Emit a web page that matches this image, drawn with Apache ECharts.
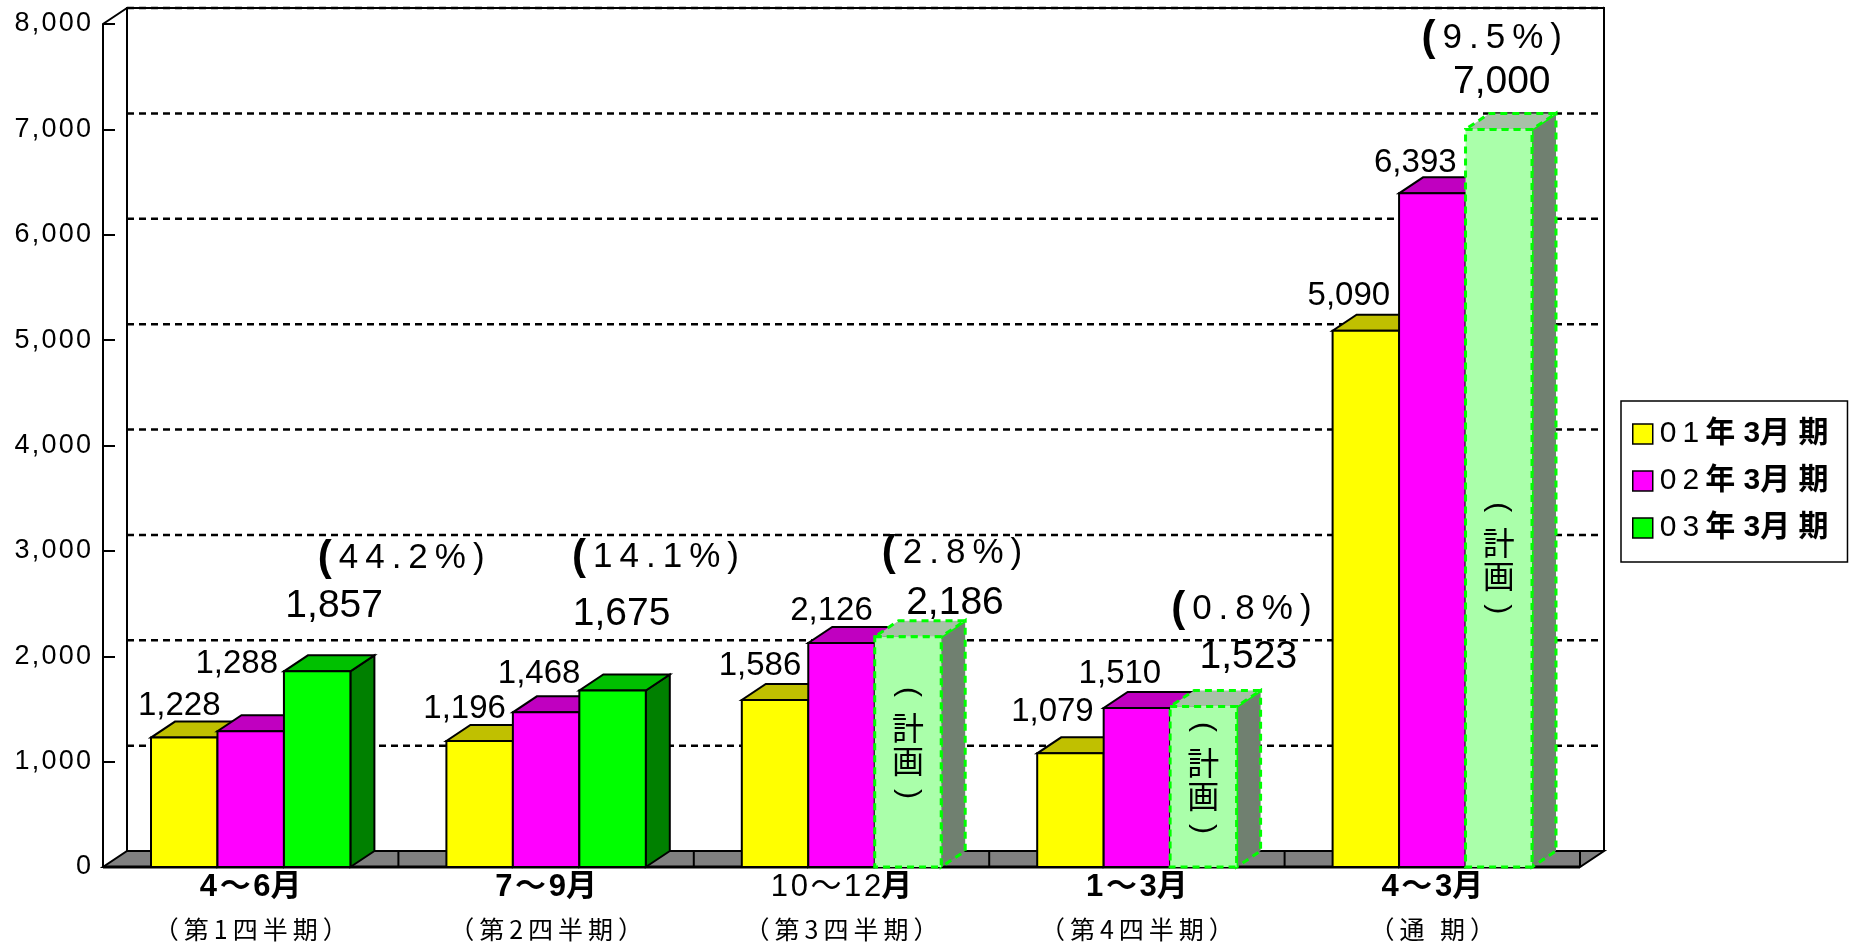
<!DOCTYPE html>
<html>
<head>
<meta charset="utf-8">
<script src="https://cdn.jsdelivr.net/npm/echarts@6/dist/echarts.min.js"></script>
<style>
  html, body { margin: 0; padding: 0; background: #fff; }
  #chart { width: 1854px; height: 947px; }
</style>
</head>
<body>
<div id="chart"></div>
<script>
// ---- data ----
const categories = ['4～6月', '7～9月', '10～12月', '1～3月', '4～3月'];
const subCategories = ['（第1四半期）', '（第2四半期）', '（第3四半期）', '（第4四半期）', '（通 期）'];
const seriesNames = ['01年 3月 期', '02年 3月 期', '03年 3月 期'];
const sales01 = [1228, 1196, 1586, 1079, 5090];
const sales02 = [1288, 1468, 2126, 1510, 6393];
const sales03 = [1857, 1675, 2186, 1523, 7000];
const isPlan03 = [false, false, true, true, true];
const growth03 = ['44.2', '14.1', '2.8', '0.8', '9.5'];
const yMax = 8000;
const yStep = 1000;

// ---- layout & style ----
const DEPTH = [24, -16];          // oblique offset of the back plane
const BAR_RATIO = 0.225;          // bar width as a share of the category band
const mainLabelBold = [true, true, false, true, true];
// label nudges relative to the top-front centre of each bar
const valueNudge = [
  [[-5, -32], [-15, -32], [-15, -34], [-18, -41], [-17, -35]],
  [[-14, -67], [-7, -38], [-10, -32], [-17, -34], [-17, -30]],
  [[17, -65], [9, -76], [47, -33], [45, -49], [3, -47]]
];
// growth label nudges relative to the value label of the third series
const growthNudge = [[67, -48], [34, -57], [-3, -50], [-7, -48], [-10, -44]];
// vertical position of the plan note, as a share of the bar height from its top
const planNoteAt = [0, 0, 0.457, 0.439, 0.58];

const NUM_FONT = "'Liberation Sans',Arial,sans-serif";
const JP_FONT = "'Noto Sans CJK JP',sans-serif";
const MIX_FONT = "'Liberation Sans','Noto Sans CJK JP',sans-serif";
const THIN = '\u2009';
const HAIR = '\u200A';

const barStyles = [
  { front: '#ffff00', top: '#c0c000', side: '#808000' },
  { front: '#ff00ff', top: '#c000c0', side: '#800080' },
  { front: '#00ff00', top: '#00c000', side: '#008000' }
];
const planStyle = { front: '#aaffaa', top: '#a8c0a8', side: '#708070', stroke: '#00ff00' };

const spaced = (s, gap) => Array.from(s).join(gap);
const fmt = v => v.toLocaleString('en-US');

// ---- frame: floor, walls and dashed grid ----
function renderFrame(params, api) {
  const cs = params.coordSys;
  const [dx, dy] = DEPTH;
  const x0 = cs.x, x1 = cs.x + cs.width;
  const yb = api.coord([0, 0])[1];
  const yt = api.coord([0, yMax])[1];
  const band = api.size([1, 0])[0];
  const black = { stroke: '#000', lineWidth: 2 };
  const children = [];
  children.push({ type: 'polygon', shape: { points: [[x0, yb], [x1, yb], [x1 + dx, yb + dy], [x0 + dx, yb + dy]] },
    style: Object.assign({ fill: '#808080' }, black) });
  for (let k = 1; k <= categories.length; k++) {
    const x = x0 + k * band;
    children.push({ type: 'line', shape: { x1: x, y1: yb + dy, x2: x, y2: yb }, style: black });
  }
  for (let v = yStep; v <= yMax; v += yStep) {
    const y = api.coord([0, v])[1] + dy;
    children.push({ type: 'line', shape: { x1: x0 + dx, y1: y, x2: x1 + dx, y2: y },
      style: { stroke: '#000', lineWidth: 2.5, lineDash: [7, 5] } });
  }
  children.push({ type: 'polyline', shape: { points: [[x0 + dx, yb + dy], [x0 + dx, yt + dy], [x1 + dx, yt + dy], [x1 + dx, yb + dy]] },
    style: Object.assign({ fill: null }, black) });
  children.push({ type: 'polyline', shape: { points: [[x0, yb], [x0, yt], [x0 + dx, yt + dy]] },
    style: Object.assign({ fill: null }, black) });
  children.push({ type: 'line', shape: { x1: x0, y1: yb, x2: x1, y2: yb }, style: { stroke: '#000', lineWidth: 3 } });
  return { type: 'group', children };
}

// vertical "（計画）" note: kanji stacked, brackets turned a quarter
function planNote(cx, cy) {
  const glyph = (t, size, font) => ({
    type: 'text', x: 0, y: 0, z2: 10,
    style: { text: t, fontFamily: font, fontSize: size, fill: '#000', align: 'center', verticalAlign: 'middle' }
  });
  const turned = (t, y) => ({
    type: 'group', x: cx, y: cy + y, rotation: -Math.PI / 2,
    children: [glyph(t, 30, NUM_FONT)]
  });
  const upright = (t, y) => ({
    type: 'group', x: cx, y: cy + y,
    children: [glyph(t, 32, JP_FONT)]
  });
  return [turned('(', -50), upright('計', -14), upright('画', 19), turned(')', 52)];
}

// ---- pseudo-3D bars ----
function makeBarRenderer(s) {
  return function (params, api) {
    const i = api.value(0), v = api.value(1);
    const plan = s === 2 && isPlan03[i];
    const band = api.size([1, 0])[0];
    const w = band * BAR_RATIO;
    const base = api.coord([i, 0]);
    const top = api.coord([i, v]);
    const cx = base[0] + (s - 1) * w;
    const xl = cx - w / 2, xr = cx + w / 2, yb = base[1], yt = top[1];
    const [dx, dy] = DEPTH;
    const st = plan ? planStyle : barStyles[s];
    const edge = plan
      ? { stroke: planStyle.stroke, lineWidth: 3, lineDash: [7, 5] }
      : { stroke: '#000', lineWidth: 2 };
    const children = [
      { type: 'polygon', shape: { points: [[xr, yt], [xr + dx, yt + dy], [xr + dx, yb + dy], [xr, yb]] },
        style: Object.assign({ fill: st.side }, edge) },
      { type: 'polygon', shape: { points: [[xl, yt], [xr, yt], [xr + dx, yt + dy], [xl + dx, yt + dy]] },
        style: Object.assign({ fill: st.top }, edge) },
      { type: 'rect', shape: { x: xl, y: yt, width: w, height: yb - yt },
        style: Object.assign({ fill: st.front }, edge) }
    ];
    const n = valueNudge[s][i];
    const lx = cx + n[0], ly = yt + n[1];
    const big = s === 2;
    children.push({ type: 'text', x: lx, y: ly, z2: 10,
      style: { text: fmt(v), fontFamily: NUM_FONT, fontSize: big ? 39 : 33,
        fill: '#000', align: 'center', verticalAlign: 'middle' } });
    if (big) {
      const g = growthNudge[i];
      children.push({ type: 'text', x: lx + g[0], y: ly + g[1], z2: 10,
        style: { text: '{l|(}{n|' + THIN + spaced(growth03[i] + '%', THIN) + THIN + ')}',
          fill: '#000', align: 'center', verticalAlign: 'middle',
          rich: {
            l: { fontFamily: NUM_FONT, fontSize: 42, fontWeight: 'bold' },
            n: { fontFamily: NUM_FONT, fontSize: 35 }
          } } });
    }
    if (plan) {
      children.push.apply(children, planNote(cx, yt + planNoteAt[i] * (yb - yt)));
    }
    return { type: 'group', children };
  };
}

const valueSets = [sales01, sales02, sales03];
const barSeries = valueSets.map((vals, s) => ({
  type: 'custom',
  name: seriesNames[s],
  z: 3 + s,
  clip: false,
  itemStyle: { color: barStyles[s].front },
  encode: { x: 0, y: 1 },
  data: vals.map((v, i) => [i, v]),
  renderItem: makeBarRenderer(s)
}));

const chart = echarts.init(document.getElementById('chart'), null, { renderer: 'canvas' });
chart.setOption({
  animation: false,
  backgroundColor: '#fff',
  grid: { left: 103, top: 24, width: 1477, height: 843 },
  xAxis: {
    type: 'category',
    data: categories,
    axisLine: { show: false },
    axisTick: { show: false },
    splitLine: { show: false },
    axisLabel: {
      interval: 0,
      margin: 0,
      color: '#000',
      formatter: (val, idx) => {
        const head = spaced(val.slice(0, -1), HAIR);
        const main = mainLabelBold[idx] ? '{b|' + head + '}' : '{r|' + head + '}';
        return main + '{b|月}\n{s|' + spaced(subCategories[idx], THIN) + '}';
      },
      rich: {
        b: { fontFamily: MIX_FONT, fontSize: 31, fontWeight: 'bold', lineHeight: 40, color: '#000' },
        r: { fontFamily: MIX_FONT, fontSize: 31, lineHeight: 40, color: '#000' },
        s: { fontFamily: JP_FONT, fontSize: 25, lineHeight: 44, color: '#000' }
      }
    }
  },
  yAxis: {
    type: 'value',
    min: 0,
    max: yMax,
    interval: yStep,
    axisLine: { show: false },
    axisTick: { show: true, inside: true, length: 12, lineStyle: { color: '#000', width: 2 } },
    splitLine: { show: false },
    axisLabel: {
      margin: 12,
      color: '#000',
      fontFamily: NUM_FONT,
      fontSize: 27,
      padding: [10, 0, 0, 0],
      formatter: v => spaced(fmt(v), HAIR)
    }
  },
  legend: {
    orient: 'vertical',
    left: 1621,
    top: 401,
    padding: [18, 19, 19, 11],
    itemGap: 17,
    itemWidth: 20,
    itemHeight: 20,
    icon: 'rect',
    selectedMode: false,
    borderColor: '#000',
    borderWidth: 1.5,
    backgroundColor: '#fff',
    itemStyle: { borderColor: '#000', borderWidth: 1.5 },
    textStyle: {
      rich: {
        n: { fontFamily: NUM_FONT, fontSize: 30, lineHeight: 32, color: '#000', padding: [0, 0, 0, 2] },
        b: { fontFamily: MIX_FONT, fontSize: 30, fontWeight: 'bold', lineHeight: 32, color: '#000' }
      }
    },
    formatter: name => '{n|' + spaced(name.slice(0, 2), THIN) + THIN + '}{b|' + name.slice(2) + '}',
    data: seriesNames
  },
  series: [{
    type: 'custom',
    name: 'frame',
    z: 1,
    silent: true,
    clip: false,
    data: [[0, 0]],
    encode: { x: 0, y: 1 },
    renderItem: renderFrame
  }].concat(barSeries)
});
</script>
</body>
</html>
